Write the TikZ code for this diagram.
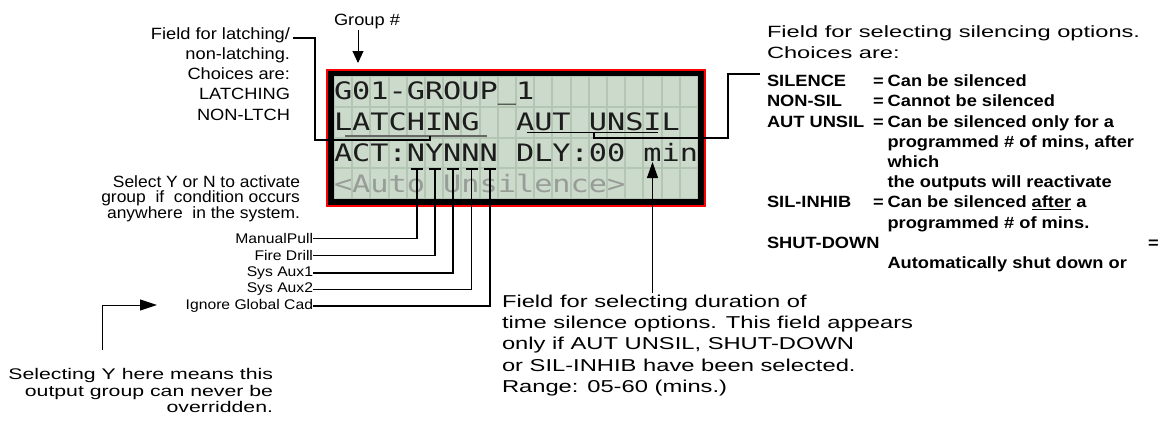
\documentclass[tikz,border=0pt]{standalone}
\usepackage{fontspec}
\setmainfont{Liberation Sans}
\newfontfamily\ffA[FakeStretch=1.12]{Liberation Sans}
\newfontfamily\ffB[FakeStretch=1.07]{Liberation Sans}
\newfontfamily\ffC[FakeStretch=1.38]{Liberation Sans}
\newfontfamily\ffD[FakeStretch=1.45]{Liberation Sans}
\newfontfamily\lcdF[FakeStretch=1.26]{DejaVu Sans Mono}
\newcommand\noskip{\lineskiplimit-20pt\relax}
\usetikzlibrary{arrows.meta,calc}
\definecolor{lcdbg}{HTML}{B3C6B3}
\definecolor{lcdcell}{HTML}{CBDACB}
\definecolor{lcdtxt}{HTML}{1C1C1C}
\definecolor{lcddim}{HTML}{979C97}
\begin{document}
\begin{tikzpicture}[x=1pt,y=-1pt,
  txt/.style={inner sep=0pt, outer sep=0pt, text=black},
  conn/.style={line width=1.8pt, black},
  thinline/.style={line width=1pt, black},
  arrM/.style={thinline, -{Triangle[length=16pt,width=11pt]}},
  arrG/.style={thinline, -{Triangle[length=12pt,width=11pt]}},
  arrS/.style={thinline, -{Triangle[length=17pt,width=11pt]}},
  lcdline/.style={inner sep=0pt, outer sep=0pt, anchor=base west, font={\lcdF\frenchspacing\fontsize{24}{24}\selectfont}, text=lcdtxt},
  lbl/.style={txt, anchor=east, font={\ffA\fontsize{14}{16}\selectfont}},
]
\useasboundingbox (0,0) rectangle (1161,423);
\fill[white] (0,0) rectangle (1161,423);

% ---------- LCD ----------
\draw[red, line width=1.2pt] (327,70) rectangle (705,206);
\fill[black] (328,71) rectangle (704,205);
\fill[lcdbg] (334,76) rectangle (698,199);
\foreach \i in {0,...,19}
  \foreach \j in {0,...,3}
    \fill[lcdcell] ({334+18.2*\i+1},{76+30.75*\j+1}) rectangle ({334+18.2*(\i+1)-1},{76+30.75*(\j+1)-1});
\node[lcdline] (r1) at (334,99.5) {G01-GROUP\_1};
\node[lcdline] (r2) at (334,130) {LATCHING~~AUT~UNSIL};
\node[lcdline] (r3) at (334,161.3) {ACT:NYNNN~DLY:00~min};
\node[lcdline, text=lcddim] (r4) at (334,192.2) {<Auto~Unsilence>};

% underlines inside LCD
\draw[line width=1.3pt, color=black!60] (345,136) -- (487,136);
\draw[line width=1.5pt, black] (527,132.5) -- (658,132.5);

% ---------- texts ----------
\node[txt, anchor=base west, font={\ffA\fontsize{16.3}{18}\selectfont}] (grp) at (334,25) {Group \#};

\node[txt, anchor=north east, align=right, font={\ffA\fontsize{16.3}{20.3}\selectfont\noskip}] (latch) at (290,26)
  {\rule{0pt}{13pt}Field for latching/\\non-latching.\\Choices are:\\LATCHING\\NON-LTCH};

\node[txt, anchor=north east, align=right, font={\ffB\fontsize{16.3}{15.2}\selectfont\noskip}] (sel) at (300,174.7)
  {\rule{0pt}{13pt}Select Y or N to activate\\group\ \ if\ \ condition occurs\\anywhere\ \ in the system.};

\node[lbl] (l1) at (313,238.5) {ManualPull};
\node[lbl] (l2) at (313,255.5) {Fire Drill};
\node[lbl] (l3) at (313,273) {Sys Aux1};
\node[lbl] (l4) at (313,289.5) {Sys Aux2};
\node[lbl] (l5) at (313,306) {Ignore Global Cad};

\node[txt, anchor=north east, align=right, font={\ffC\fontsize{15.4}{16.7}\selectfont\noskip}] (selY) at (273,366.3)
  {\rule{0pt}{13pt}Selecting Y here means this\\output group can never be\\overridden.};

\node[txt, anchor=north west, align=left, font={\ffC\fontsize{17.2}{21.25}\selectfont\noskip}] (dur) at (502,294.3)
  {\rule{0pt}{13pt}Field for selecting duration of\\time silence options. This field appears\\only if AUT UNSIL, SHUT-DOWN\\or SIL-INHIB have been selected.\\Range: 05-60 (mins.)};

\node[txt, anchor=north west, align=left, font={\ffD\fontsize{16.3}{20.8}\selectfont\noskip}] (silhead) at (767,24.7)
  {\rule{0pt}{13pt}Field for selecting silencing options.\\Choices are:};

\node[txt, anchor=north west, align=left, font={\ffA\bfseries\fontsize{16.3}{20.2}\selectfont\noskip}] (silnames) at (767,73.7)
  {\rule{0pt}{13pt}SILENCE\\NON-SIL\\AUT UNSIL\\\strut\\\strut\\\strut\\SIL-INHIB\\\strut\\SHUT-DOWN};

\node[txt, anchor=north west, align=left, font={\ffA\bfseries\fontsize{16.3}{20.2}\selectfont\noskip}] (sildefs) at (873,73.7)
  {\rule{0pt}{13pt}=\hspace{4pt}Can be silenced\\=\hspace{4pt}Cannot be silenced\\=\hspace{4pt}Can be silenced only for a\\\hspace*{14.5pt}programmed \# of mins, after\\\hspace*{14.5pt}which\\\hspace*{14.5pt}the outputs will reactivate\\=\hspace{4pt}Can be silenced \underline{after} a\\\hspace*{14.5pt}programmed \# of mins.\\\hspace*{275pt}=\\\hspace*{14.5pt}Automatically shut down or};

% ---------- connectors ----------
\coordinate (grpTip) at (358,63);
\draw[arrG] ($(grp.south west)+(24,1.6)$) -- (grpTip);

\coordinate (latchBend) at (315,140);
\coordinate (latchU) at (430,136);
\draw[conn] ($(latch.north east)+(3,12.3)$) -| (latchBend) -| (latchU);

\coordinate (autU) at (594,132.5);
\coordinate (silBend) at (728,138);
\draw[conn] (autU) |- (silBend) |- ([xshift=-7pt]silnames.north west);

\coordinate (minTip) at (652.5,162);
\draw[arrM] ($(dur.north west)+(150.5,-1)$) -- (minTip);

\foreach \k/\x in {1/416.9,2/435.1,3/453.3,4/471.5,5/489.7}{
  \coordinate (t\k) at (\x,169);
  \draw[conn] ([xshift=-6pt]t\k) -- ([xshift=6pt]t\k);
  \draw[conn] (t\k) |- (l\k.east);
}

\coordinate (sStart) at (102,350);
\coordinate (sTip) at (157,305);
\draw[arrS] (sStart) |- (sTip);
\end{tikzpicture}
\end{document}
